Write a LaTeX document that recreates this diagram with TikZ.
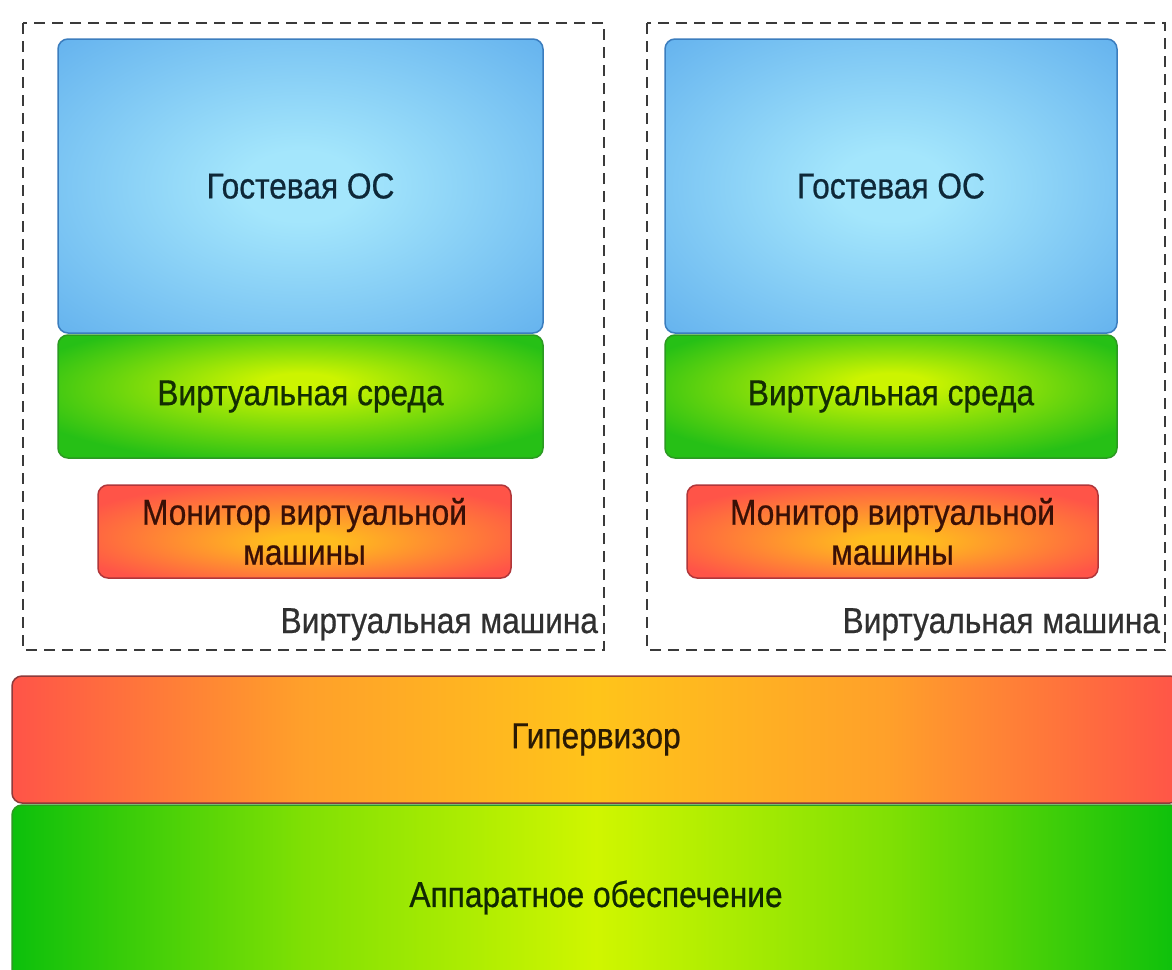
\documentclass[tikz,border=0pt]{standalone}
\usepackage{fontspec}
\setmainfont{Liberation Sans}[FakeStretch=0.88, FakeBold=0.6]

% palette
\definecolor{bluehi}{HTML}{A4E6FC}
\definecolor{blueedge}{HTML}{64B2EE}
\definecolor{blueline}{HTML}{3B7DBE}
\definecolor{bluetext}{HTML}{0E2838}
\definecolor{greenhi}{HTML}{CCF400}
\definecolor{greenedge}{HTML}{26C016}
\definecolor{greenline}{HTML}{2C9A22}
\definecolor{greentext}{HTML}{132E02}
\definecolor{monhi}{HTML}{FFBC1E}
\definecolor{monedge}{HTML}{FF5448}
\definecolor{monline}{HTML}{B0363A}
\definecolor{montext}{HTML}{3A1006}
\definecolor{hypred}{HTML}{FF5448}
\definecolor{hypmid}{HTML}{FFA02A}
\definecolor{hypyellow}{HTML}{FFC41A}
\definecolor{hypline}{HTML}{8E3A3A}
\definecolor{hyptext}{HTML}{2A1A04}
\definecolor{hwgreen}{HTML}{0CC00C}
\definecolor{hwmid}{HTML}{80E004}
\definecolor{hwyellow}{HTML}{D0F600}
\definecolor{hwtext}{HTML}{102802}
\definecolor{vmline}{HTML}{3A3A3A}
\definecolor{vmtext}{HTML}{303030}

% shadings
\pgfdeclareradialshading{osglow}{\pgfpoint{0bp}{0bp}}{%
  color(0bp)=(bluehi); color(6bp)=(bluehi); color(36bp)=(blueedge); color(50bp)=(blueedge)}
\pgfdeclareradialshading{envglow}{\pgfpoint{0bp}{6bp}}{%
  color(0bp)=(greenhi); color(4bp)=(greenhi); color(30bp)=(greenedge); color(50bp)=(greenedge)}
\pgfdeclareradialshading{monglow}{\pgfpoint{0bp}{-6bp}}{%
  color(0bp)=(monhi); color(4bp)=(monhi); color(30bp)=(monedge); color(50bp)=(monedge)}
\pgfdeclarehorizontalshading{hypband}{100bp}{%
  color(0bp)=(hypred); color(25bp)=(hypred); color(37.5bp)=(hypmid);
  color(50bp)=(hypyellow); color(62.5bp)=(hypmid); color(75bp)=(hypred); color(100bp)=(hypred)}
\pgfdeclarehorizontalshading{hwband}{100bp}{%
  color(0bp)=(hwgreen); color(25bp)=(hwgreen); color(37.5bp)=(hwmid);
  color(50bp)=(hwyellow); color(62.5bp)=(hwmid); color(75bp)=(hwgreen); color(100bp)=(hwgreen)}

\begin{document}
\begin{tikzpicture}[x=1pt, y=-1pt,
  every node/.style={inner sep=0pt, outer sep=0pt,
    font=\fontsize{36}{40}\selectfont, align=center},
  layer/.style={rectangle, rounded corners=10pt, line width=1.5pt},
  guestos/.style={layer, draw=blueline, shading=osglow, text=bluetext},
  vmenv/.style={layer, draw=greenline, shading=envglow, text=greentext},
  vmmon/.style={layer, draw=monline, shading=monglow, text=montext},
  vmframe/.style={draw=vmline, line width=2.5pt, dash pattern=on 11pt off 7pt},
  vmlabel/.style={text=vmtext},
  hyper/.style={layer, draw=hypline, shading=hypband, text=hyptext},
  hardware/.style={layer, draw=greenline, shading=hwband, text=hwtext}]

\useasboundingbox (0,0) rectangle (1172,969);
\fill[white] (0,0) rectangle (1172,969);
\clip (0,0) rectangle (1172,969);

% left virtual machine
\draw[vmframe] (23,23) rectangle (604,650);
\node[guestos, minimum width=485pt, minimum height=294pt] (osL) at (300.5,186) {Гостевая ОС};
\node[vmenv, minimum width=485pt, minimum height=123pt] (envL) at (300.5,396.5) {Виртуальная среда};
\node[vmmon, minimum width=413pt, minimum height=93pt] (monL) at (304.5,531.5) {Монитор виртуальной\\машины};
\node[vmlabel, anchor=base east] (vmL) at (598,633) {Виртуальная машина};

% right virtual machine
\draw[vmframe] (647,23) rectangle (1165,650);
\node[guestos, minimum width=452pt, minimum height=294pt] (osR) at (891,186) {Гостевая ОС};
\node[vmenv, minimum width=452pt, minimum height=123pt] (envR) at (891,396.5) {Виртуальная среда};
\node[vmmon, minimum width=411pt, minimum height=93pt] (monR) at (892.5,531.5) {Монитор виртуальной\\машины};
\node[vmlabel, anchor=base east] (vmR) at (1160,633) {Виртуальная машина};

% shared layers
\node[hyper, minimum width=1168pt, minimum height=127pt] (hyp) at (596,739.5) {Гипервизор};
\node[hardware, minimum width=1168pt, minimum height=185pt] (hw) at (596,897.5) {Аппаратное обеспечение};
\end{tikzpicture}
\end{document}
